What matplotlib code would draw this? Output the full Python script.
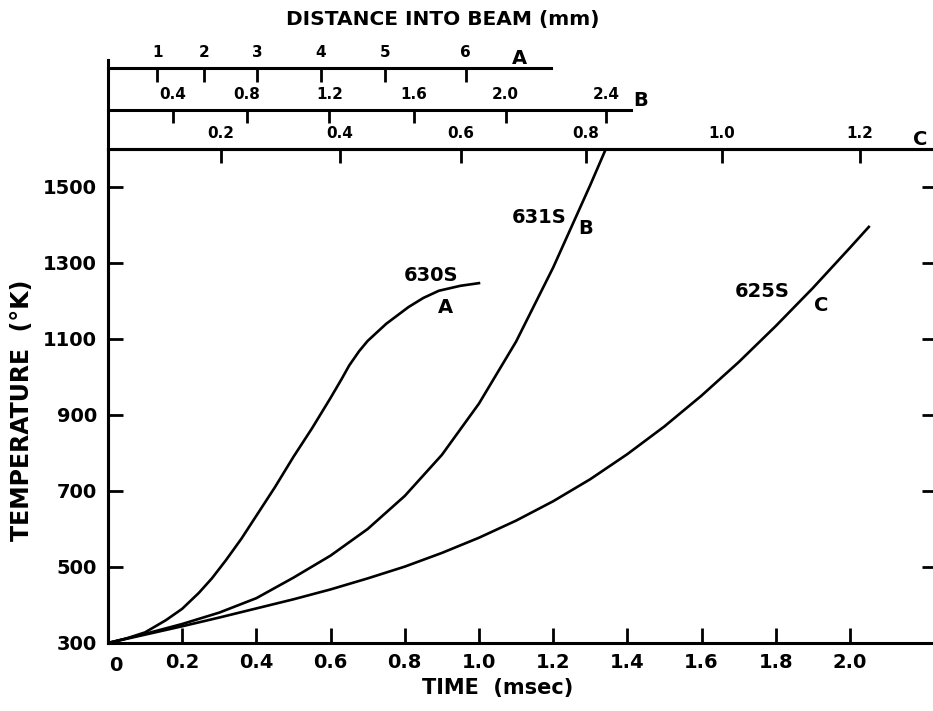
import matplotlib
matplotlib.use("Agg")
import matplotlib.pyplot as plt
from matplotlib.lines import Line2D

# ---------------- data ----------------
# Curve A (630S)
time_A = [0.0, 0.05, 0.1, 0.156, 0.2, 0.245, 0.28, 0.318, 0.36, 0.4, 0.45, 0.5,
          0.55, 0.6, 0.63, 0.65, 0.677, 0.7, 0.75, 0.81, 0.85, 0.892, 0.95, 1.0]
temp_A = [300, 312, 328, 360, 390, 432, 470, 518, 575, 635, 710, 790,
          865, 945, 995, 1030, 1068, 1095, 1140, 1184, 1208, 1227, 1240, 1247]
# Curve B (631S)
time_B = [0.0, 0.1, 0.2, 0.3, 0.4, 0.5, 0.6, 0.7, 0.8, 0.9, 1.0, 1.1, 1.2, 1.3, 1.342]
temp_B = [300, 324, 350, 380, 418, 472, 530, 600, 687, 795, 930, 1093, 1288, 1505, 1600]
# Curve C (625S)
time_C = [0.0, 0.1, 0.2, 0.3, 0.4, 0.5, 0.6, 0.7, 0.8, 0.9, 1.0, 1.1, 1.2, 1.3,
          1.4, 1.5, 1.6, 1.7, 1.8, 1.9, 2.0, 2.051]
temp_C = [300, 322, 344, 367, 391, 415, 441, 470, 501, 537, 577, 622, 673, 731,
          797, 870, 951, 1039, 1134, 1234, 1340, 1395]

curve_names = ["630S", "631S", "625S"]
curve_letters = ["A", "B", "C"]

# time axis ticks
time_ticks = [0.2, 0.4, 0.6, 0.8, 1.0, 1.2, 1.4, 1.6, 1.8, 2.0]
time_labels = ["0.2", "0.4", "0.6", "0.8", "1.0", "1.2", "1.4", "1.6", "1.8", "2.0"]
temp_ticks = [300, 500, 700, 900, 1100, 1300, 1500]

# distance scales (distance value -> time position)
distA_labels = ["1", "2", "3", "4", "5", "6"]
distA_time = [0.133, 0.259, 0.402, 0.573, 0.748, 0.964]
distB_labels = ["0.4", "0.8", "1.2", "1.6", "2.0", "2.4"]
distB_time = [0.175, 0.375, 0.597, 0.825, 1.072, 1.342]
distC_labels = ["0.2", "0.4", "0.6", "0.8", "1.0", "1.2"]
distC_time = [0.304, 0.625, 0.951, 1.288, 1.655, 2.027]
scaleA_end = 1.193
scaleB_end = 1.41

# ---------------- figure ----------------
W, H = 933, 711
fig = plt.figure(figsize=(W / 100, H / 100), dpi=100)
plt.rcParams['font.family'] = ['DejaVu Sans']

def fx(px):
    return px / W

def fy(py):
    return 1 - py / H

left = fx(108)
right = 1.0
bottom = fy(643)
top_C = fy(149)
y_A = fy(68)
y_B = fy(110)

XMIN, XMAX = 0.0, 2.224
YMIN, YMAX = 300, 1600

ax = fig.add_axes([left, bottom, right - left, top_C - bottom])
lw_sp = 2.2
ax.plot(time_A, temp_A, color="black", lw=1.9)
ax.plot(time_B, temp_B, color="black", lw=1.9)
ax.plot(time_C, temp_C, color="black", lw=1.9)
ax.set_xlim(XMIN, XMAX)
ax.set_ylim(YMIN, YMAX)

for s in ["left", "bottom", "top"]:
    ax.spines[s].set_linewidth(lw_sp)
ax.spines["right"].set_visible(False)

ax.set_xticks(time_ticks)
ax.set_xticklabels(time_labels)
ax.set_yticks(temp_ticks)
ax.tick_params(axis="x", direction="in", length=11, width=2.0, pad=7,
               labelsize=14, bottom=True, top=False)
ax.tick_params(axis="y", direction="in", length=11, width=2.0, pad=8,
               labelsize=14, left=True, right=True)
for lab in ax.get_xticklabels() + ax.get_yticklabels():
    lab.set_fontweight("bold")
# "0" label at origin
ax.text(0.02, -0.026, "0", transform=ax.get_xaxis_transform(), ha="center",
        va="top", fontsize=14, fontweight="bold")
ax.yaxis.get_major_ticks()[0].tick2line.set_visible(False)
for t in ax.yaxis.get_major_ticks():
    t.tick2line.set_markersize(8)

# C scale on top spine of main axes
axC = ax.twiny()
axC.set_xlim(XMIN, XMAX)
axC.set_xticks(distC_time)
axC.set_xticklabels(distC_labels)
axC.tick_params(axis="x", direction="in", length=10, width=2.0, pad=6,
                labelsize=11)
for s in ["left", "bottom", "right"]:
    axC.spines[s].set_visible(False)
axC.spines["top"].set_linewidth(lw_sp)
for lab in axC.get_xticklabels():
    lab.set_fontweight("bold")
axC.text(2.19, 1.0, "C", transform=axC.get_xaxis_transform(), ha="center",
         va="bottom", fontsize=14, fontweight="bold")

def scale_axes(yline, ticks, labels, end, letter, letter_x, tick_len):
    a = fig.add_axes([left, top_C, right - left, yline - top_C])
    a.set_xlim(XMIN, XMAX)
    a.set_ylim(0, 1)
    a.patch.set_visible(False)
    for s in ["left", "bottom", "right"]:
        a.spines[s].set_visible(False)
    a.spines["top"].set_linewidth(lw_sp)
    a.spines["top"].set_bounds(0, end)
    a.set_yticks([])
    a.xaxis.set_ticks_position("top")
    a.xaxis.set_label_position("top")
    a.set_xticks(ticks)
    a.set_xticklabels(labels)
    a.tick_params(axis="x", direction="in", length=tick_len, width=2.0, pad=6,
                  labelsize=11, top=True, bottom=False, labeltop=True,
                  labelbottom=False)
    for lab in a.get_xticklabels():
        lab.set_fontweight("bold")
    a.text(letter_x, 1.0, letter, transform=a.get_xaxis_transform(),
           ha="center", va="bottom", fontsize=14, fontweight="bold")
    return a

axA = scale_axes(y_A, distA_time, distA_labels, scaleA_end, "A", 1.108, 10)
axB = scale_axes(y_B, distB_time, distB_labels, scaleB_end, "B", 1.435, 9)

# extended left vertical line up to scale A
fig.add_artist(Line2D([left, left], [bottom, fy(60)], color="black",
                      lw=lw_sp, transform=fig.transFigure))

# curve labels
fs_lab = 14
ax.text(0.871, 1268, curve_names[0], ha="center", va="center", fontsize=fs_lab,
        fontweight="bold")
ax.text(0.911, 1182, curve_letters[0], ha="center", va="center", fontsize=fs_lab,
        fontweight="bold")
ax.text(1.162, 1421, curve_names[1], ha="center", va="center", fontsize=fs_lab,
        fontweight="bold")
ax.text(1.288, 1392, curve_letters[1], ha="center", va="center", fontsize=fs_lab,
        fontweight="bold")
ax.text(1.763, 1224, curve_names[2], ha="center", va="center", fontsize=fs_lab,
        fontweight="bold")
ax.text(1.922, 1187, curve_letters[2], ha="center", va="center", fontsize=fs_lab,
        fontweight="bold")

# axis titles
fig.text(fx(498), fy(688), "TIME  (msec)", ha="center", va="center",
         fontsize=15, fontweight="bold")
fig.text(fx(22), fy(410), "TEMPERATURE  (°K)", ha="center", va="center",
         rotation=90, fontsize=17, fontweight="bold")
fig.text(fx(443), fy(20), "DISTANCE INTO BEAM (mm)", ha="center",
         va="center", fontsize=14.5, fontweight="bold")

fig.savefig("out.png", dpi=100)
